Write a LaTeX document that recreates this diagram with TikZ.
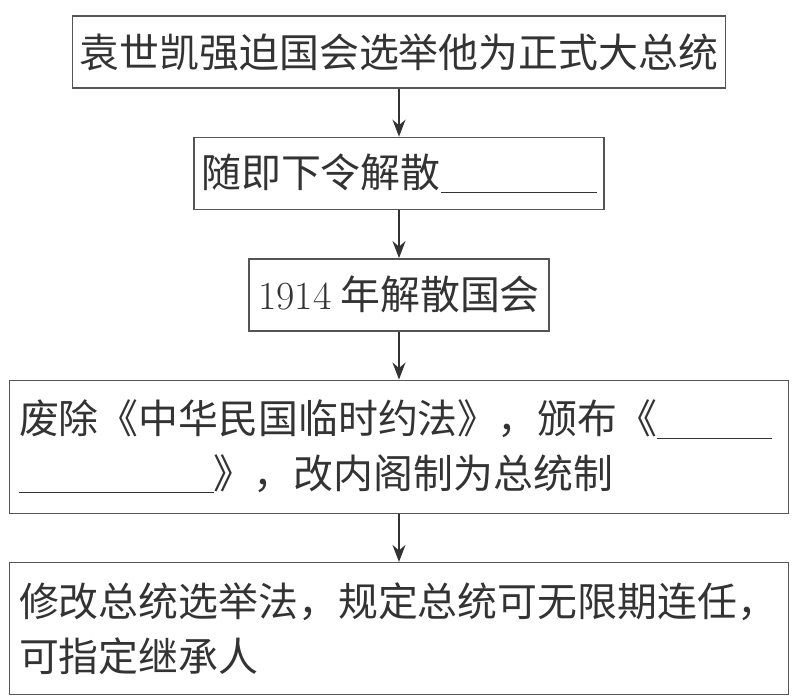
\documentclass[tikz,border=0pt]{standalone}
\usepackage{fontspec}
\newfontfamily\cjk{Noto Sans CJK SC}
\usetikzlibrary{arrows.meta,positioning}
\definecolor{inkgray}{HTML}{333333}
\definecolor{framegray}{HTML}{555555}
\tikzset{
  box/.style={draw=framegray, line width=0.8pt, text=inkgray, font=\cjk\fontsize{22.7}{31}\selectfont, align=center, minimum height=1.44cm, inner sep=0.15cm},
  widebox/.style={box, minimum width=15.58cm, text width=15.2cm, align=left, inner xsep=0.19cm},
  arrow/.style={-{Stealth[length=3.4mm,width=2.6mm]}, line width=0.9pt, draw=inkgray}
}
\newcommand{\blankline}[1]{\rule[-0.12em]{#1}{0.6pt}}

\begin{document}
\begin{tikzpicture}[node distance=0.96cm]
  \useasboundingbox (0,0) rectangle (15.98,-13.94);
  \node[box, minimum width=13cm] (force) at (7.98,-1.04) {袁世凯强迫国会选举他为正式大总统};
  \node[box, below=of force, minimum width=8.2cm] (order) {随即下令解散\blankline{3.12cm}};
  \node[box, below=of order, minimum width=6cm] (dissolve) {\textrm{1914} 年解散国会};
  \node[widebox, below=of dissolve, minimum height=2.66cm] (abolish) {废除《中华民国临时约法》，颁布《\blankline{2.3cm}\\\blankline{3.9cm}》，改内阁制为总统制};
  \node[widebox, below=of abolish, minimum height=2.64cm] (elect) {修改总统选举法，规定总统可无限期连任，\\可指定继承人};
  \draw[arrow] (force)--(order); \draw[arrow] (order)--(dissolve); \draw[arrow] (dissolve)--(abolish); \draw[arrow] (abolish)--(elect);
\end{tikzpicture}
\end{document}
